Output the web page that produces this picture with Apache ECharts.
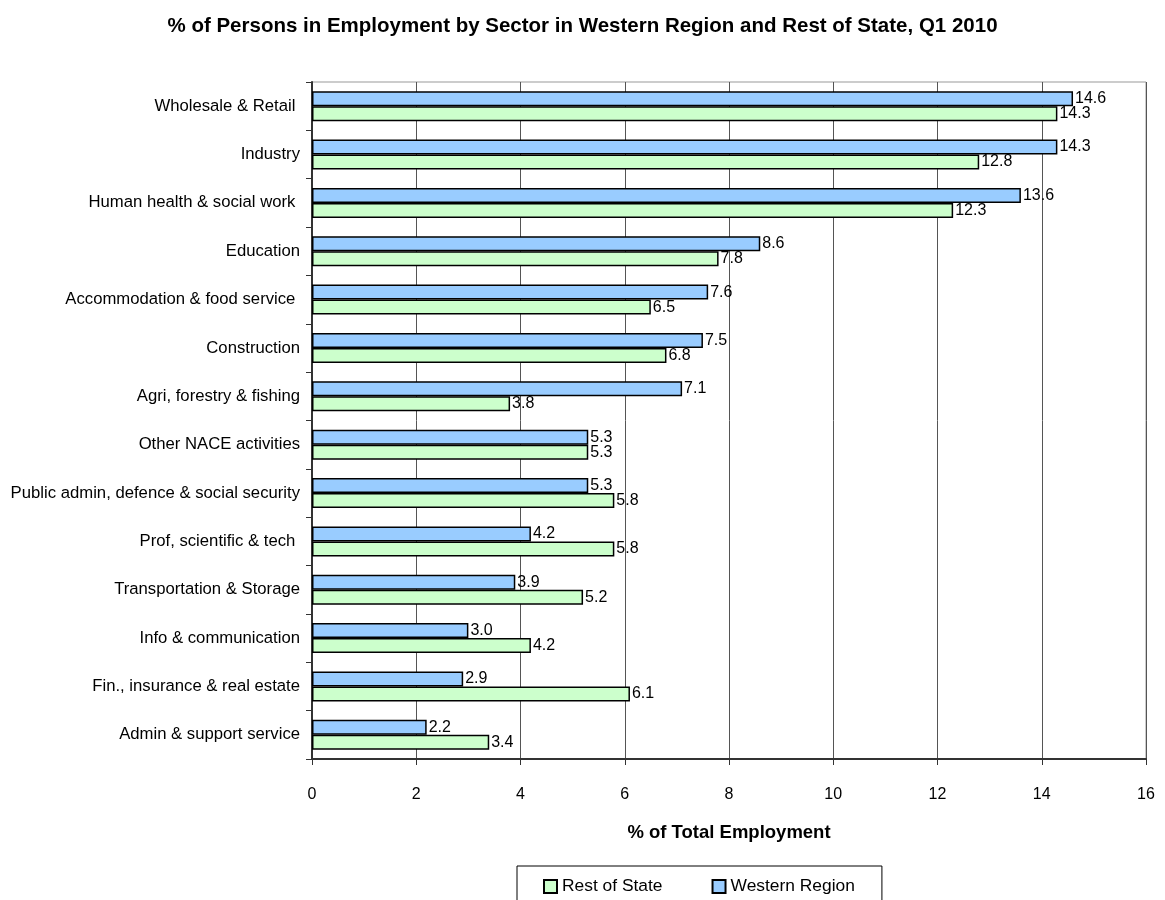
<!DOCTYPE html>
<html><head><meta charset="utf-8">
<script src="https://cdn.jsdelivr.net/npm/echarts@6/dist/echarts.min.js"></script>
<style>html,body{margin:0;padding:0;background:#fff}#c{width:1165px;height:900px}</style>
</head><body><div id="c"></div>
<script>
const categories = ["Wholesale & Retail ", "Industry", "Human health & social work ", "Education", "Accommodation & food service ", "Construction", "Agri, forestry & fishing", "Other NACE activities", "Public admin, defence & social security", "Prof, scientific & tech ", "Transportation & Storage", "Info & communication", "Fin., insurance & real estate", "Admin & support service"];
const western = [14.6, 14.3, 13.6, 8.6, 7.6, 7.5, 7.1, 5.3, 5.3, 4.2, 3.9, 3.0, 2.9, 2.2];
const restOfState = [14.3, 12.8, 12.3, 7.8, 6.5, 6.8, 3.8, 5.3, 5.8, 5.8, 5.2, 4.2, 6.1, 3.4];
const xTicks = [0, 2, 4, 6, 8, 10, 12, 14, 16];

const font = '"Liberation Sans", Arial, sans-serif';
const chart = echarts.init(document.getElementById('c'), null, {renderer: 'canvas'});
const lbl = {show: true, position: 'right', distance: 2, color: '#000', fontFamily: font, fontSize: 16,
  formatter: p => p.value.toFixed(1)};
chart.setOption({
  animation: false,
  backgroundColor: '#fff',
  title: {text: '% of Persons in Employment by Sector in Western Region and Rest of State, Q1 2010',
    left: 'center', top: 11, textStyle: {fontFamily: font, fontSize: 20.5, fontWeight: 'bold', color: '#000'}},
  grid: {left: 312, top: 82, right: 19, bottom: 141, show: true, borderColor: '#999', borderWidth: 1,
    containLabel: false, outerBoundsMode: 'none'},
  legend: {data: ['Rest of State', 'Western Region'], top: 866, left: 517,
    borderColor: '#000', borderWidth: 1, padding: [12, 27, 30, 26], itemGap: 49,
    itemWidth: 13, itemHeight: 13, icon: 'rect',
    textStyle: {fontFamily: font, fontSize: 17.4, color: '#000'}},
  xAxis: {type: 'value', min: xTicks[0], max: xTicks[xTicks.length - 1], interval: 2,
    name: '% of Total Employment', nameLocation: 'middle', nameGap: 64,
    nameTextStyle: {fontFamily: font, fontSize: 18.5, fontWeight: 'bold', color: '#000'},
    axisLine: {show: true, lineStyle: {color: '#333', width: 2}},
    axisTick: {show: true, length: 6, lineStyle: {color: '#333'}},
    axisLabel: {fontFamily: font, fontSize: 16, color: '#000', margin: 28},
    splitLine: {show: true, lineStyle: {color: '#555', width: 1}}},
  yAxis: {type: 'category', data: categories, inverse: true,
    axisLine: {show: true, lineStyle: {color: '#333', width: 2}},
    axisTick: {show: true, length: 6, lineStyle: {color: '#333'}},
    axisLabel: {fontFamily: font, fontSize: 16.7, color: '#000', margin: 12, padding: [4, 0, 0, 0]}},
  series: [
    {name: 'Western Region', type: 'bar', data: western, barGap: '0%', barCategoryGap: '38%',
      itemStyle: {color: '#99CCFF', borderColor: '#000', borderWidth: 1.5}, label: lbl},
    {name: 'Rest of State', type: 'bar', data: restOfState, barGap: '0%', barCategoryGap: '38%',
      itemStyle: {color: '#CCFFCC', borderColor: '#000', borderWidth: 1.5}, label: lbl}
  ]
});
</script></body></html>
